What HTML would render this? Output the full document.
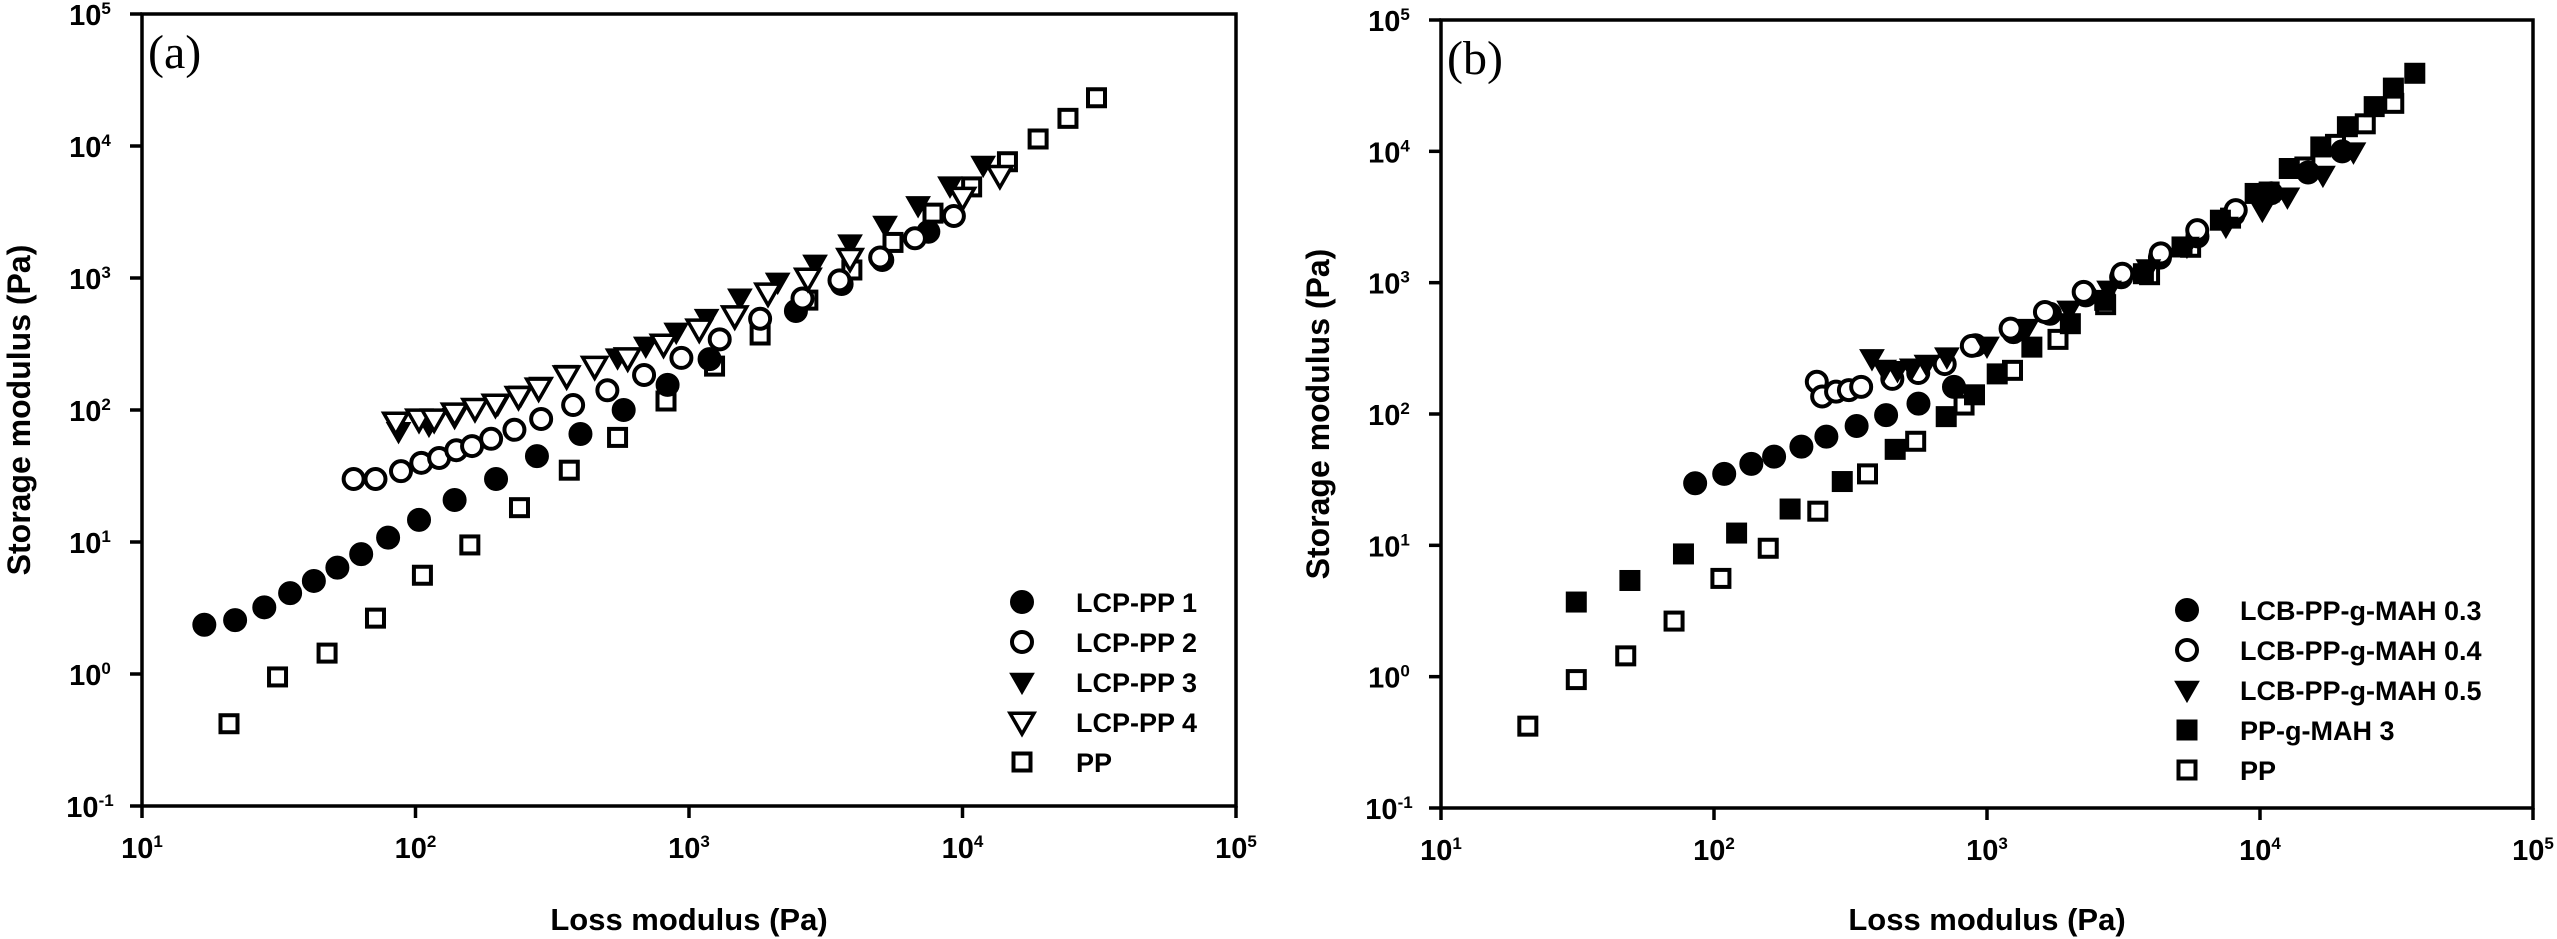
<!DOCTYPE html>
<html><head><meta charset="utf-8"><style>
html,body{margin:0;padding:0;background:#fff;}
svg{display:block;}
text{font-family:"Liberation Sans",Arial,sans-serif;}
</style></head><body>
<svg id="fig" width="2557" height="939" viewBox="0 0 2557 939" xmlns="http://www.w3.org/2000/svg"></svg>
<script>
// ---------- data (G'' , G') ----------
const ppX=[20.8,31.3,47.5,71.4,106,158,240,365,548,824,1240,1820,2720,3940,5570,7800,10800,14600,18900,24300,30900];
const ppY=[0.42,0.95,1.44,2.65,5.6,9.5,18.2,35,62,117,215,370,680,1150,1860,3100,4900,7600,11300,16200,23200];

const lcp1X=[16.9,21.9,28,34.8,42.5,51.8,63.3,79.4,103,139,197,278,401,577,835,1189,2460,3614,5090,7500];
const lcp1Y=[2.36,2.56,3.2,4.1,5.07,6.4,8.1,10.8,14.7,20.8,30,44.7,65.8,100,155,243,562,900,1370,2240];

const lcp2X=[59.4,71.4,88.5,105,122,141,161,189,230,288,377,503,685,938,1295,1820,2600,3550,5000,6700,9300];
const lcp2Y=[30,30,34.4,39.8,43.3,49.6,53.3,60.5,70.8,85.5,109,141,184,248,343,491,700,960,1430,2000,2950];

const lcp3X=[86.7,112,139,200,243,288,357,452,548,695,898,1160,1535,2110,2890,3880,5210,6880,9000,11900];
const lcp3Y=[69,77,88,111,130,152,187,215,249,306,390,496,708,933,1277,1820,2520,3550,5000,7180];

const lcp4X=[84.7,103,117,139,165,196,238,282,357,452,597,807,1090,1470,1945,2720,3880,10000,13700];
const lcp4Y=[81,85.5,85.5,95,103,111,127,147,182,215,249,316,411,518,770,1000,1410,4100,6000];

const m03X=[85.3,109,137,166,209,258,333,427,561,757,907,1250,1700,2300,3100,4300,5900,8000,11000,15000,20000];
const m03Y=[29.7,35,41.7,47.4,56.4,67.3,81,98,120,161,334,420,580,800,1100,1550,2250,3300,4800,6900,10000];

const m04X=[238,249,280,312,346,450,560,700,880,1220,1630,2260,3130,4330,5890,8150];
const m04Y=[176,136,148,152,161,185,205,240,330,447,598,851,1170,1670,2510,3570];

const m05X=[379,420,470,530,600,713,1000,1400,2000,2800,3900,5400,7500,10200,12600,17000,22000];
const m05Y=[265,220,215,225,240,273,330,450,620,880,1280,1900,2700,3570,4510,6600,9930];

const mah3X=[31.3,49.2,77.3,121,190,295,461,709,900,1090,1460,2020,2700,3740,5180,7160,9600,12800,16700,20900,26200,30800,36900];
const mah3Y=[3.7,5.4,8.6,12.4,18.9,30.6,53.8,95.5,140,202,323,487,733,1170,1870,2990,4780,7400,10800,15400,21900,30300,39300];

const xTickExp=[1,2,3,4,5];
const yTickExp=[-1,0,1,2,3,4,5];
const legendA=["LCP-PP 1","LCP-PP 2","LCP-PP 3","LCP-PP 4","PP"];
const legendB=["LCB-PP-g-MAH 0.3","LCB-PP-g-MAH 0.4","LCB-PP-g-MAH 0.5","PP-g-MAH 3","PP"];

// ---------- drawing ----------
const NS="http://www.w3.org/2000/svg";
const svg=document.getElementById('fig');
function mk(tag,attrs,parent){const e=document.createElementNS(NS,tag);for(const k in attrs)e.setAttribute(k,attrs[k]);(parent||svg).appendChild(e);return e;}

function makeScales(p){
  const sx=v=>p.x0+(Math.log10(v)-1)/4*(p.x1-p.x0);
  const sy=v=>p.yb-(Math.log10(v)+1)/6*(p.yb-p.yt);
  return {sx,sy};
}
function marker(g,type,cx,cy){
  let e;
  if(type==='fc'||type==='oc'){
    e=mk('circle',{cx:cx,cy:cy,r:type==='fc'?11.5:10,fill:type==='fc'?'#000':'#fff',stroke:'#000','stroke-width':type==='fc'?1:4},g);
  }else if(type==='fs'||type==='os'){
    const s=type==='fs'?20:17;
    e=mk('rect',{x:cx-s/2,y:cy-s/2,width:s,height:s,fill:type==='fs'?'#000':'#fff',stroke:'#000','stroke-width':type==='fs'?1:4},g);
  }else{
    const w=12,h=11;
    e=mk('polygon',{points:`${cx-w},${cy-h*0.8} ${cx+w},${cy-h*0.8} ${cx},${cy+h*1.1}`,fill:type==='ft'?'#000':'#fff',stroke:'#000','stroke-width':type==='ft'?1:3.5,'stroke-linejoin':'miter'},g);
  }
  return e;
}
function drawSeries(p,sc,xs,ys,type,name){
  const g=mk('g',{});
  
  
  for(let i=0;i<xs.length;i++){
    const m=marker(g,type,sc.sx(xs[i]),sc.sy(ys[i]));
    
    
  }
}
function drawAxes(p,sc,label,name){
  const g=mk('g',{});
  
  
  const box=mk('rect',{x:p.x0,y:p.yt,width:p.x1-p.x0,height:p.yb-p.yt,fill:'none',stroke:'#000','stroke-width':3.5},g);
  
  
  xTickExp.forEach(e=>{
    const x=sc.sx(Math.pow(10,e));
    const t=mk('line',{x1:x,x2:x,y1:p.yb,y2:p.yb+12,stroke:'#000','stroke-width':3.5},g);
    
    
    const tx=mk('text',{x:x,y:p.yb+52,'text-anchor':'middle','font-size':29,'font-weight':'bold'},g);
    
    
    tx.innerHTML='10<tspan dy="-11" font-size="17">'+e+'</tspan>';
  });
  yTickExp.forEach(e=>{
    const y=sc.sy(Math.pow(10,e));
    const t=mk('line',{x1:p.x0-12,x2:p.x0,y1:y,y2:y,stroke:'#000','stroke-width':3.5},g);
    
    
    const tx=mk('text',{x:p.x0-52,y:y+11,'text-anchor':'middle','font-size':29,'font-weight':'bold'},g);
    
    
    tx.innerHTML='10<tspan dy="-11" font-size="17">'+e+'</tspan>';
  });
  const xt=mk('text',{x:(p.x0+p.x1)/2,y:930,'text-anchor':'middle','font-size':31,'font-weight':'bold'},g);
  
  
  xt.textContent='Loss modulus (Pa)';
  const cy=(p.yt+p.yb)/2, cx=p.x0-112;
  const yt=mk('text',{x:cx,y:cy,'text-anchor':'middle','font-size':32,'font-weight':'bold',transform:`rotate(-90 ${cx} ${cy})`},g);
  
  
  yt.textContent='Storage modulus (Pa)';
  const pl=mk('text',{x:p.x0+6,y:p.yt+54,'font-size':48,style:'font-family:"Liberation Serif",serif'},g);
  
  
  pl.textContent=label;
}
function drawLegend(entries,types,mx,tx,y0,name){
  const g=mk('g',{});
  
  
  entries.forEach((lab,i)=>{
    const y=y0+i*40;
    const m=marker(g,types[i],mx,y);
    
    
    const t=mk('text',{x:tx,y:y+10,'font-size':27,'font-weight':'bold'},g);
    
    
    t.textContent=lab;
  });
}

const pA={x0:142,x1:1236,yt:14,yb:806};
const pB={x0:1441,x1:2533,yt:20,yb:808};
const sA=makeScales(pA), sB=makeScales(pB);

drawAxes(pA,sA,'(a)','panel-a');
drawSeries(pA,sA,ppX,ppY,'os','series-a-pp');
drawSeries(pA,sA,lcp1X,lcp1Y,'fc','series-lcp-pp-1');
drawSeries(pA,sA,lcp2X,lcp2Y,'oc','series-lcp-pp-2');
drawSeries(pA,sA,lcp3X,lcp3Y,'ft','series-lcp-pp-3');
drawSeries(pA,sA,lcp4X,lcp4Y,'ot','series-lcp-pp-4');
drawLegend(legendA,['fc','oc','ft','ot','os'],1022,1076,602,'legend-a');

drawAxes(pB,sB,'(b)','panel-b');
drawSeries(pB,sB,ppX,ppY,'os','series-b-pp');
drawSeries(pB,sB,m03X,m03Y,'fc','series-lcb-mah-0-3');
drawSeries(pB,sB,m04X,m04Y,'oc','series-lcb-mah-0-4');
drawSeries(pB,sB,m05X,m05Y,'ft','series-lcb-mah-0-5');
drawSeries(pB,sB,mah3X,mah3Y,'fs','series-pp-g-mah-3');
drawLegend(legendB,['fc','oc','ft','fs','os'],2187,2240,610,'legend-b');
</script>
</body></html>
